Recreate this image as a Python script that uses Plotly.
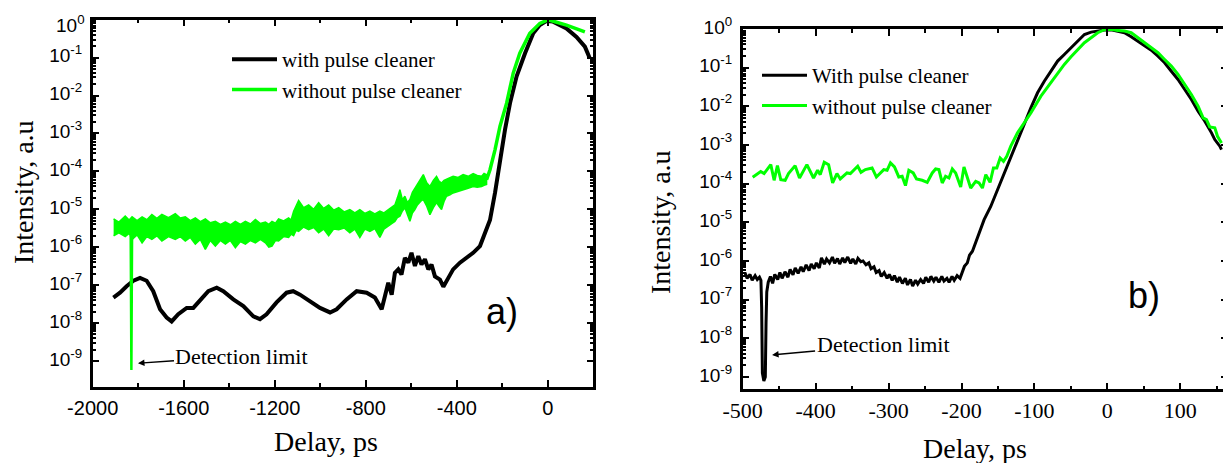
import plotly.graph_objects as go

# ---------------- panel a) ----------------
a_with_x = [-1909, -1880, -1851, -1821, -1792, -1763, -1734, -1704, -1675, -1653, -1624, -1587, -1558,
            -1529, -1492, -1455, -1426, -1382, -1338, -1294, -1265, -1236, -1192, -1148, -1119, -1089,
            -1045, -1001, -957, -928, -884, -840, -796, -760, -730, -716, -701, -686, -672, -657, -643,
            -628, -613, -599, -584, -569, -555, -540, -525, -511, -496, -474, -459, -437, -416, -386,
            -357, -328, -298, -284, -272, -254, -232, -210, -188, -166, -137, -100, -64, -35, -5, 23,
            82, 126, 163, 185]
a_with_y = [4.7e-8, 6.3e-8, 9.3e-8, 1.3e-7, 1.55e-7, 1.3e-7, 6.9e-8, 2.3e-8, 1.4e-8, 1.1e-8, 1.7e-8,
            2.5e-8, 2.5e-8, 3.8e-8, 6.9e-8, 8.5e-8, 6.9e-8, 4.2e-8, 2.8e-8, 1.5e-8, 1.26e-8, 1.7e-8,
            3.5e-8, 6.3e-8, 6.9e-8, 5.6e-8, 3.8e-8, 2.5e-8, 1.9e-8, 2.3e-8, 4.2e-8, 6.9e-8, 6.3e-8,
            4.7e-8, 2.3e-8, 5.1e-8, 1.15e-7, 5.6e-8, 2.1e-7, 2.6e-7, 1.9e-7, 5.2e-7, 3.9e-7, 7.1e-7,
            3.2e-7, 5.8e-7, 3.5e-7, 4.8e-7, 2.6e-7, 3.5e-7, 1.7e-7, 1.4e-7, 9.1e-8, 1.55e-7, 2.6e-7,
            3.9e-7, 5.2e-7, 7.1e-7, 1.07e-6, 1.8e-6, 3.0e-6, 5.2e-6, 2.7e-5, 2.0e-4, 1.26e-3, 6.3e-3,
            3.2e-2, 0.13, 0.44, 0.72, 0.93, 0.89, 0.59, 0.35, 0.195, 0.095]

# noisy background of the uncleaned pulse: upper / lower edge of the band
a_band_x = [-1908, -1885, -1857, -1840, -1827, -1805, -1783, -1762, -1740, -1718,
            -1696, -1667, -1637, -1615, -1593, -1571, -1549, -1527, -1505, -1483,
            -1461, -1439, -1417, -1395, -1373, -1351, -1329, -1307, -1285, -1263,
            -1241, -1226, -1212, -1197, -1183, -1161, -1139, -1128, -1117, -1106,
            -1095, -1073, -1051, -1029, -1007, -985, -963, -941, -919, -895,
            -870, -848, -826, -804, -782, -760, -738, -720, -701, -686,
            -672, -661, -650, -639, -628, -617, -606, -595, -584, -573,
            -562, -555, -547, -532, -518, -503, -489, -478, -467, -456,
            -445, -430, -416, -394, -372, -350, -328, -310, -291, -280,
            -269]
a_band_hi = [5.6e-6, 4.6e-6, 6.6e-6, 5.2e-6, 6.3e-6, 5.0e-6, 6.3e-6, 5.3e-6, 7.3e-6, 5.8e-6,
             7.3e-6, 6.0e-6, 7.7e-6, 5.9e-6, 6.3e-6, 5.0e-6, 5.9e-6, 4.7e-6, 5.6e-6, 4.4e-6,
             4.8e-6, 4.0e-6, 4.6e-6, 3.9e-6, 4.8e-6, 4.0e-6, 4.8e-6, 4.1e-6, 5.4e-6, 4.2e-6,
             4.6e-6, 4.0e-6, 4.8e-6, 4.3e-6, 5.6e-6, 4.9e-6, 5.9e-6, 5.2e-6, 8.9e-6, 1.2e-5,
             1.7e-5, 1.1e-5, 1.3e-5, 1.0e-5, 1.5e-5, 1.05e-5, 1.3e-5, 9.5e-6, 1.1e-5, 8.5e-6,
             9.8e-6, 8.0e-6, 9.8e-6, 7.8e-6, 8.9e-6, 7.5e-6, 8.9e-6, 8.0e-6, 9.8e-6, 1.1e-5,
             1.3e-5, 2.0e-5, 3.3e-5, 1.8e-5, 2.2e-5, 1.5e-5, 1.8e-5, 2.8e-5, 3.6e-5, 4.5e-5,
             5.5e-5, 7.0e-5, 8.2e-5, 5.0e-5, 4.0e-5, 5.8e-5, 7.4e-5, 5.5e-5, 4.9e-5, 5.8e-5,
             6.1e-5, 6.8e-5, 7.4e-5, 6.9e-5, 8.2e-5, 7.4e-5, 8.7e-5, 7.8e-5, 7.4e-5, 8.8e-5,
             8.2e-5]
a_band_lo = [2.0e-6, 2.4e-6, 1.9e-6, 2.3e-6, 1.6e-6, 2.1e-6, 1.3e-6, 1.9e-6, 1.6e-6, 2.0e-6,
             1.45e-6, 1.9e-6, 1.6e-6, 1.9e-6, 1.45e-6, 1.8e-6, 1.2e-6, 1.6e-6, 8.7e-7, 1.5e-6,
             1.07e-6, 1.5e-6, 1.2e-6, 1.5e-6, 9.6e-7, 1.4e-6, 1.2e-6, 1.5e-6, 1.3e-6, 1.6e-6,
             1.3e-6, 1.0e-6, 1.07e-6, 1.5e-6, 1.45e-6, 1.9e-6, 1.8e-6, 2.2e-6, 2.0e-6, 2.8e-6,
             2.6e-6, 3.4e-6, 2.9e-6, 3.3e-6, 2.4e-6, 3.0e-6, 2.0e-6, 3.0e-6, 2.9e-6, 3.2e-6,
             2.4e-6, 3.0e-6, 1.8e-6, 3.0e-6, 2.6e-6, 3.1e-6, 1.8e-6, 3.0e-6, 3.6e-6, 4.2e-6,
             4.8e-6, 6.0e-6, 6.6e-6, 9.0e-6, 1.1e-5, 7.0e-6, 4.8e-6, 8.0e-6, 9.8e-6, 1.3e-5,
             1.5e-5, 1.7e-5, 1.8e-5, 1.2e-5, 7.2e-6, 1.1e-5, 1.5e-5, 1.2e-5, 9.8e-6, 1.6e-5,
             2.2e-5, 2.4e-5, 2.7e-5, 3.0e-5, 3.3e-5, 3.6e-5, 4.0e-5, 3.8e-5, 4.0e-5, 4.3e-5,
             4.5e-5]
a_spike_x = [-1833, -1830, -1827]
a_spike_y = [2.0e-6, 5.8e-10, 2.0e-6]
a_without_x = [-269, -254, -232, -210, -181, -152, -123, -79, -35, 2, 82, 163]
a_without_y = [6.0e-5, 1.1e-4, 3.7e-4, 1.55e-3, 6.3e-3, 3.9e-2, 0.13, 0.44, 0.80, 1.0, 0.72, 0.48]

# ---------------- panel b) ----------------
b_with_x = [-497, -494, -490, -487, -483, -480, -477, -475, -474, -473, -471, -469, -468, -467, -465,
            -462, -459, -456, -452, -449, -446, -442, -438, -435, -431, -428, -424, -420, -417, -413,
            -409, -406, -402, -399, -395, -392, -388, -385, -381, -377, -374, -370, -367, -363, -360,
            -356, -352, -349, -345, -342, -338, -335, -331, -327, -324, -320, -317, -313, -310, -306,
            -302, -299, -295, -292, -288, -285, -281, -277, -274, -270, -267, -263, -260, -256, -252,
            -249, -245, -242, -238, -235, -231, -227, -224, -220, -217, -213, -210, -206, -202, -199,
            -196, -192, -189, -185, -182, -178, -169, -159.9, -150.7, -141.5, -132.4, -123.2, -114,
            -104.9, -95.7, -86.5, -77.3, -68.2, -59, -49.8, -40.7, -31.5, -22.3, -13.2, -4, 5.2, 14.3,
            23.5, 32.7, 41.9, 51, 60.2, 69.4, 78.5, 87.7, 96.9, 106.1, 115.2, 124.4, 133.6, 142.8,
            147.3, 154.2, 156.5]
b_with_y = [5.01e-7, 3.55e-7, 4.47e-7, 3.16e-7, 4.17e-7, 3.31e-7, 3.80e-7, 3.16e-7, 6.3e-8, 1.26e-9,
            7.9e-10, 1.0e-9, 2.5e-8, 1.58e-7, 2.82e-7, 3.98e-7, 2.63e-7, 4.47e-7, 3.31e-7, 5.01e-7,
            3.55e-7, 5.25e-7, 3.80e-7, 6.03e-7, 4.37e-7, 6.61e-7, 4.79e-7, 7.08e-7, 5.25e-7, 7.94e-7,
            5.62e-7, 8.32e-7, 6.31e-7, 8.91e-7, 6.61e-7, 1.20e-6, 8.32e-7, 1.12e-6, 8.91e-7, 1.26e-6,
            8.71e-7, 1.15e-6, 8.32e-7, 1.20e-6, 9.12e-7, 1.26e-6, 8.71e-7, 1.12e-6, 8.32e-7, 1.17e-6,
            9.55e-7, 1.0e-6, 7.94e-7, 8.91e-7, 6.31e-7, 7.08e-7, 5.01e-7, 5.62e-7, 3.98e-7, 5.01e-7,
            3.55e-7, 4.47e-7, 3.16e-7, 4.17e-7, 2.82e-7, 3.80e-7, 2.63e-7, 3.55e-7, 2.40e-7, 3.31e-7,
            2.24e-7, 3.16e-7, 2.51e-7, 3.31e-7, 2.63e-7, 3.80e-7, 2.82e-7, 3.98e-7, 3.02e-7, 3.80e-7,
            2.82e-7, 3.98e-7, 3.02e-7, 3.55e-7, 2.82e-7, 3.98e-7, 3.16e-7, 4.17e-7, 3.55e-7, 5.01e-7,
            7.24e-7, 8.91e-7, 1.41e-6, 1.78e-6, 2.51e-6, 3.98e-6, 1.17e-5, 2.57e-5, 6.9e-5, 1.9e-4,
            5.1e-4, 1.38e-3, 3.7e-3, 9.1e-3, 2.24e-2, 4.47e-2, 8.1e-2, 0.148, 0.219, 0.327, 0.486,
            0.72, 0.83, 0.885, 0.94, 0.955, 0.885, 0.80, 0.63, 0.486, 0.361, 0.284, 0.199, 0.134,
            8.1e-2, 4.94e-2, 2.72e-2, 1.5e-2, 7.5e-3, 4.1e-3, 2.06e-3, 1.38e-3, 9.3e-4, 7.6e-4]

b_without_x = [-486.3, -478.5, -475.3, -470.7, -467.0, -461.5, -456.9, -452.4, -447.8, -441.8, -437.2,
               -428.1, -422.1, -412.0, -402.9, -397.3, -393.7, -388.2, -382.2, -376.7, -370.8, -366.2,
               -357.0, -352.4, -342.3, -337.8, -331.8, -322.6, -316.7, -306.6, -302.0, -297.4, -291.9,
               -286.0, -281.4, -276.8, -272.2, -266.2, -261.7, -253.9, -247.0, -240.1, -235.5, -231.0,
               -226.4, -221.8, -217.2, -212.6, -208.0, -201.1, -196.6, -187.4, -180.5, -175.9, -171.3,
               -166.7, -160.8, -156.2, -151.6, -147.0, -142.4, -137.9, -132.4, -123.2, -114.0, -104.9,
               -91.1, -77.3, -68.2, -59.0, -49.8, -40.7, -31.5, -22.3, -13.2, -4.0, 5.2, 14.3, 23.5,
               32.7, 41.9, 51.0, 60.2, 69.4, 78.5, 87.7, 96.9, 106.1, 115.2, 124.4, 131.3, 135.9, 140.4,
               147.3, 151.0, 156.5]
b_without_y = [1.46e-4, 1.89e-4, 2.05e-4, 1.82e-4, 2.21e-4, 3.10e-4, 1.22e-4, 2.92e-4, 1.27e-4, 1.22e-4,
               1.82e-4, 2.92e-4, 1.40e-4, 3.10e-4, 1.40e-4, 2.21e-4, 1.71e-4, 3.57e-4, 3.10e-4, 1.04e-4,
               1.82e-4, 1.32e-4, 1.89e-4, 1.82e-4, 2.81e-4, 1.96e-4, 2.31e-4, 2.55e-4, 1.49e-4, 2.31e-4,
               2.21e-4, 3.43e-4, 2.70e-4, 1.49e-4, 1.55e-4, 8.9e-5, 2.21e-4, 1.89e-4, 1.32e-4, 1.22e-4,
               1.08e-4, 1.89e-4, 2.40e-4, 2.31e-4, 1.04e-4, 1.55e-4, 1.40e-4, 2.40e-4, 1.89e-4, 8.2e-5,
               2.70e-4, 7.7e-5, 1.15e-4, 1.04e-4, 7.7e-5, 1.71e-4, 1.08e-4, 2.55e-4, 2.55e-4, 4.62e-4,
               3.79e-4, 5.10e-4, 9.3e-4, 2.06e-3, 3.73e-3, 6.78e-3, 1.83e-2, 4.06e-2, 7.36e-2, 0.121,
               0.191, 0.296, 0.441, 0.594, 0.80, 0.96, 0.98, 0.92, 0.885, 0.80, 0.594, 0.441, 0.327,
               0.243, 0.163, 0.110, 6.67e-2, 3.67e-2, 2.02e-2, 1.01e-2, 5.02e-3, 4.55e-3, 2.94e-3,
               2.77e-3, 1.68e-3, 1.13e-3]

decades = [0, -1, -2, -3, -4, -5, -6, -7, -8, -9]
x_ticks_a = [-2000, -1600, -1200, -800, -400, 0]
x_ticks_b = [-500, -400, -300, -200, -100, 0, 100]

GREEN = '#00ff00'
SERIF = 'Liberation Serif'
SANS = 'Liberation Sans'
W, H, OFF = 1231, 463, 8  # the page puts the figure 8 px in from its top-left corner


def px(x):
    return (x - OFF) / W


def py(y):
    return 1 - (y - OFF) / H


decade_labels = ['10<sup>%d</sup>' % d for d in decades]

fig = go.Figure()

# panel a
fig.add_trace(go.Scatter(x=a_with_x, y=a_with_y, mode='lines', line=dict(color='black', width=4),
                         name='with pulse cleaner', legendrank=1, xaxis='x', yaxis='y', legend='legend'))
fig.add_trace(go.Scatter(x=a_band_x + a_band_x[::-1], y=a_band_hi + a_band_lo[::-1], mode='lines',
                         fill='toself', fillcolor=GREEN, line=dict(color=GREEN, width=1.5),
                         showlegend=False, xaxis='x', yaxis='y'))
fig.add_trace(go.Scatter(x=a_spike_x, y=a_spike_y, mode='lines', line=dict(color=GREEN, width=2.5),
                         showlegend=False, xaxis='x', yaxis='y'))
fig.add_trace(go.Scatter(x=a_without_x, y=a_without_y, mode='lines', line=dict(color=GREEN, width=3.5),
                         name='without pulse cleaner', legendrank=2, xaxis='x', yaxis='y', legend='legend'))

# panel b
fig.add_trace(go.Scatter(x=b_with_x, y=b_with_y, mode='lines', line=dict(color='black', width=3),
                         name='With pulse cleaner', legendrank=1, xaxis='x2', yaxis='y2', legend='legend2'))
fig.add_trace(go.Scatter(x=b_without_x, y=b_without_y, mode='lines', line=dict(color=GREEN, width=3),
                         name='without pulse cleaner', legendrank=2, xaxis='x2', yaxis='y2', legend='legend2'))

y_minor = [m * 10.0 ** d for d in decades for m in range(2, 10)]
tick_font = dict(family=SANS, size=19, color='black')
y_common = dict(type='log', showline=True, linewidth=2.5, linecolor='black', mirror='ticks',
                ticks='inside', ticklen=7, tickwidth=2, tickcolor='black', showgrid=False,
                automargin=False, tickmode='array', tickvals=[10.0 ** d for d in decades],
                ticklabelstandoff=4, ticklabelshift=-2, ticklabeloverflow='allow', tickfont=tick_font,
                minor=dict(tickmode='array', tickvals=y_minor, ticks='inside', ticklen=4,
                           tickwidth=1.5, tickcolor='black', showgrid=False))
x_common = dict(showline=True, linewidth=2.5, linecolor='black', mirror='ticks', ticks='inside',
                ticklen=7, tickwidth=2, tickcolor='black', showgrid=False, zeroline=False,
                automargin=False, tickmode='array', ticklabeloverflow='allow')
title_font = dict(family=SERIF, size=28, color='black')
legend_style = dict(xanchor='left', yanchor='top', bgcolor='rgba(0,0,0,0)',
                    font=dict(family=SERIF, size=21, color='black'), itemwidth=45, tracegroupgap=0)
arrow_style = dict(showarrow=True, arrowhead=2, arrowsize=1, arrowwidth=1.3, arrowcolor='black',
                   font=dict(family=SERIF, size=22, color='black'))

fig.update_layout(
    width=W, height=H,
    margin=dict(l=0, r=0, t=0, b=0, autoexpand=False),
    paper_bgcolor='white', plot_bgcolor='white',
    xaxis=dict(domain=[px(92.7), px(593.3)], range=[-2000, 200], anchor='y',
               tickvals=x_ticks_a, ticktext=[str(v) for v in x_ticks_a], ticklabelstandoff=2,
               tickfont=dict(family=SANS, size=20, color='black'),
               minor=dict(dtick=200, ticks='inside', ticklen=4, tickwidth=1.5, tickcolor='black'),
               **x_common),
    # the top label of panel a sits a little below its tick, as in the original; drawn as a note
    yaxis=dict(domain=[py(386.7), py(19.7)], range=[-9.68, 0], anchor='x',
               ticktext=[''] + decade_labels[1:], **y_common),
    xaxis2=dict(domain=[px(742.7), px(1227.7)], range=[-500, 165], anchor='y2',
                tickvals=x_ticks_b, ticktext=[str(v) for v in x_ticks_b], ticklabelstandoff=0,
                tickfont=dict(family=SERIF, size=22, color='black'),
                minor=dict(dtick=50, ticks='inside', ticklen=4, tickwidth=1.5, tickcolor='black'),
                **x_common),
    yaxis2=dict(domain=[py(389.3), py(29)], range=[-9.32, 0], anchor='x2',
                ticktext=decade_labels, **y_common),
    legend=dict(x=px(227), y=py(39), **legend_style),
    legend2=dict(x=px(757), y=py(55), **legend_style),
    annotations=[
        dict(text=decade_labels[0], x=px(87), y=py(24), xref='paper', yref='paper', xanchor='right',
             yanchor='middle', showarrow=False, font=tick_font),
        dict(text='Intensity, a.u', x=px(23), y=py(192), xref='paper', yref='paper', xanchor='center',
             yanchor='middle', textangle=-90, showarrow=False, font=title_font),
        dict(text='Intensity, a.u', x=px(660), y=py(222), xref='paper', yref='paper', xanchor='center',
             yanchor='middle', textangle=-90, showarrow=False, font=title_font),
        dict(text='Delay, ps', x=px(326), y=py(441), xref='paper', yref='paper', xanchor='center',
             yanchor='middle', showarrow=False, font=title_font),
        dict(text='Delay, ps', x=px(975), y=py(448), xref='paper', yref='paper', xanchor='center',
             yanchor='middle', showarrow=False, font=title_font),
        dict(text='a)', x=px(502), y=py(311), xref='paper', yref='paper', xanchor='center',
             yanchor='middle', showarrow=False, font=dict(family=SANS, size=36, color='black')),
        dict(text='b)', x=px(1144), y=py(295), xref='paper', yref='paper', xanchor='center',
             yanchor='middle', showarrow=False, font=dict(family=SANS, size=36, color='black')),
        dict(text='Detection limit', x=-1801, y=-9.06, xref='x', yref='y', ax=104, ay=-7, **arrow_style),
        dict(text='Detection limit', x=-459.7, y=-8.43, xref='x2', yref='y2', ax=111, ay=-10, **arrow_style),
    ],
)

fig.write_html("out.html")
